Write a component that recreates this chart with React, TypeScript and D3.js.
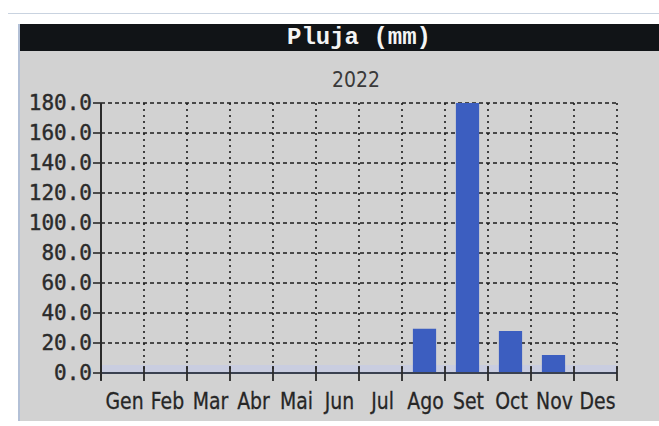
import React from "react";
import * as d3 from "d3";

const months = ["Gen", "Feb", "Mar", "Abr", "Mai", "Jun", "Jul", "Ago", "Set", "Oct", "Nov", "Des"];
const rainfall = [0, 0, 0, 0, 0, 0, 0, 29.5, 180, 28, 12, 0];
const yTicks = [0, 20, 40, 60, 80, 100, 120, 140, 160, 180];
const title = "Pluja (mm)";
const subtitle = "2022";

const W = 659;
const H = 426;
const X0 = 101;
const X1 = 617;
const Y0 = 373;
const Y1 = 103;

export default function App() {
  const x = d3.scaleBand<string>().domain(months).range([X0, X1]).padding(0);
  const y = d3.scaleLinear().domain([0, 180]).range([Y0, Y1]);
  const bw = x.bandwidth();
  const barW = bw * 0.54;
  const boundaries = d3.range(months.length + 1).map((i) => X0 + i * bw);

  return (
    <svg
      width={W}
      height={H}
      style={{ position: "fixed", left: 0, top: 0, background: "#ffffff" }}
    >
      <rect x={0} y={0} width={W} height={H} fill="#ffffff" />
      <line x1={8} x2={W} y1={13.5} y2={13.5} stroke="#c9d3e0" strokeWidth={1} />
      {/* panel */}
      <rect x={18} y={24} width={W - 18} height={421 - 24} fill="#d2d2d2" />
      <line x1={19} x2={19} y1={24} y2={421} stroke="#b3c0d6" strokeWidth={2} />
      <rect x={20} y={24} width={W - 20} height={27} fill="#111417" />
      <text
        x={359}
        y={44}
        textAnchor="middle"
        fill="#f4f4f4"
        fontFamily="'Liberation Mono', 'DejaVu Sans Mono', monospace"
        fontWeight="bold"
        fontSize={24}
      >
        {title}
      </text>
      <text
        x={356}
        y={87}
        textAnchor="middle"
        fill="#3a3a3a"
        fontFamily="'DejaVu Sans', sans-serif"
        fontSize={21}
        textLength={48}
        lengthAdjust="spacingAndGlyphs"
      >
        {subtitle}
      </text>
      {/* light band above axis */}
      <rect x={X0} y={Y0 - 8} width={X1 - X0} height={8} fill="#c9cde0" />
      {/* horizontal grid */}
      {yTicks.filter((t) => t > 0).map((t) => (
        <line
          key={"h" + t}
          x1={X0}
          x2={X1}
          y1={y(t)}
          y2={y(t)}
          stroke="#1c1c1c"
          strokeWidth={1.6}
          strokeDasharray="4 3"
        />
      ))}
      {/* vertical grid */}
      {boundaries.slice(1).map((bx, i) => (
        <line
          key={"v" + i}
          x1={bx}
          x2={bx}
          y1={Y1}
          y2={Y0}
          stroke="#1c1c1c"
          strokeWidth={1.6}
          strokeDasharray="2 4"
        />
      ))}
      {/* bars */}
      {months.map((m, i) =>
        rainfall[i] > 0 ? (
          <rect
            key={"b" + m}
            x={(x(m) as number) + (bw - barW) / 2 + 1}
            y={y(rainfall[i])}
            width={barW}
            height={Y0 - y(rainfall[i])}
            fill="#3c5ec0"
          />
        ) : null
      )}
      {/* axes */}
      <line x1={X0} x2={X0} y1={Y1} y2={Y0 + 7} stroke="#2a2a2a" strokeWidth={2} />
      <line x1={X0} x2={X1} y1={Y0} y2={Y0} stroke="#3a4150" strokeWidth={2.2} />
      {yTicks.map((t) => (
        <g key={"yt" + t}>
          <line x1={X0 - 8} x2={X0} y1={y(t)} y2={y(t)} stroke="#2a2a2a" strokeWidth={1.6} />
          <text
            x={92}
            y={y(t) + 7}
            textAnchor="end"
            fill="#2b2b2b"
            stroke="#2b2b2b"
            strokeWidth={0.4}
            fontFamily="'DejaVu Sans Mono', monospace"
            fontSize={21}
          >
            {t.toFixed(1)}
          </text>
        </g>
      ))}
      {boundaries.map((bx, i) => (
        <line key={"xt" + i} x1={bx} x2={bx} y1={Y0 - 7} y2={Y0 + 8} stroke="#2a2a2a" strokeWidth={1.8} />
      ))}
      {months.map((m) => (
        <text
          key={"l" + m}
          transform={`translate(${(x(m) as number) + bw / 2 + 2},${409}) scale(0.82,1)`}
          textAnchor="middle"
          fill="#262626"
          stroke="#262626"
          strokeWidth={0.3}
          fontFamily="'DejaVu Sans', sans-serif"
          fontSize={23}
        >
          {m}
        </text>
      ))}
    </svg>
  );
}
